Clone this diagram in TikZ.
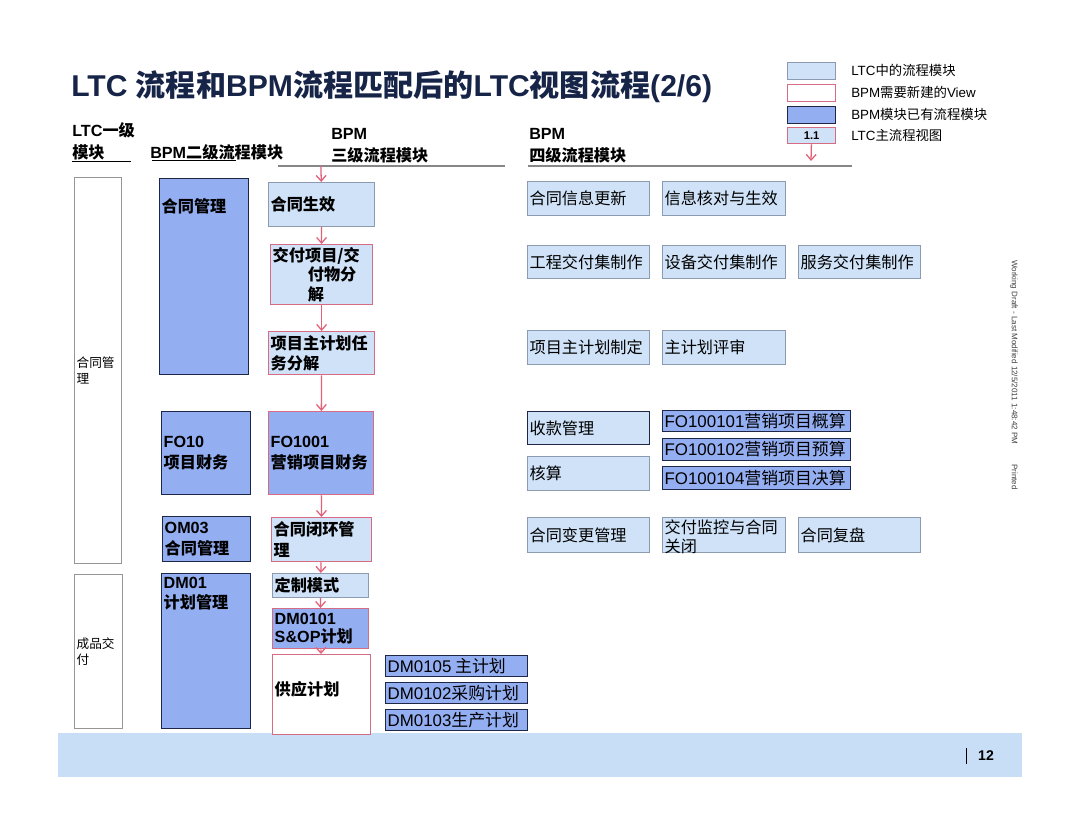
\documentclass[tikz,border=0pt]{standalone}
\usepackage{fontspec}
\setmainfont{Noto Sans CJK SC}
\newfontfamily\lat{Liberation Sans}
\usetikzlibrary{arrows.meta}
\definecolor{LtcBlue}{RGB}{207,226,247}
\definecolor{LtcEdge}{RGB}{140,155,175}
\definecolor{BpmBlue}{RGB}{148,174,242}
\definecolor{BpmEdge}{RGB}{30,40,70}
\definecolor{NewRed}{RGB}{214,108,132}
\definecolor{ArrowRed}{RGB}{226,96,120}
\definecolor{TitleBlue}{RGB}{22,36,72}
\definecolor{BandBlue}{RGB}{200,222,246}
\definecolor{GrayEdge}{RGB}{150,150,150}
\definecolor{GrayLine}{RGB}{135,135,135}
\tikzset{
    ltc/.style={draw=LtcEdge, fill=LtcBlue, line width=0.7pt},
    bpm/.style={draw=BpmEdge, fill=BpmBlue, line width=0.8pt},
    nuevo/.style={draw=NewRed, line width=0.9pt},
    nivel1/.style={draw=GrayEdge, fill=white, line width=0.7pt, font=\fontsize{9}{11}\selectfont},
    nivel2/.style={font=\bfseries\fontsize{11.5}{14.5}\selectfont},
    nivel3/.style={font=\bfseries\fontsize{11.5}{14.5}\selectfont},
    nivel4/.style={font=\fontsize{11.5}{14}\selectfont},
    detalle/.style={font=\fontsize{12}{14}\selectfont},
    cabecera/.style={anchor=west, align=left, inner sep=0pt, font=\bfseries\fontsize{11.5}{15.5}\selectfont},
    leyenda/.style={anchor=west, inner sep=0pt, font=\fontsize{9.5}{11}\selectfont},
    flecha/.style={ArrowRed, line width=0.9pt, -{Straight Barb[length=4pt,width=7pt]}},
    regla/.style={GrayLine, line width=1.6pt},
}
\newcommand{\modbox}[8]{% nombre, x, y, ancho, alto, estilo, vertical, texto
    \pgfmathsetlengthmacro\mbw{#4*0.025cm-3pt}%
    \pgfmathsetlengthmacro\mbh{#5*0.025cm-3pt}%
    \node[#6, inner sep=1.5pt, anchor=north west] (#1) at (#2,#3)
        {\parbox[c][\mbh][#7]{\mbw}{\raggedright #8}};
}

\begin{document}
\begin{tikzpicture}[x=0.025cm, y=-0.025cm]

\path[use as bounding box, fill=white] (0,0) rectangle (1080,832);

% pie de pagina
\fill[BandBlue] (58,733) rectangle (1022,777);
\draw[black, line width=0.6pt] (966,748) -- (966,764);
\node[inner sep=0pt, font=\lat\bfseries\fontsize{10}{12}\selectfont] (pagina) at (986,756) {12};

% titulo
\node[anchor=west, inner sep=0pt, text=TitleBlue, font=\bfseries\fontsize{21.4}{24}\selectfont] (titulo) at (71,87)
    {{\lat LTC }流程和{\lat BPM}流程匹配后的{\lat LTC}视图流程{\lat (2/6)}};

% leyenda
\modbox{lg1}{787}{62}{48}{17}{ltc}{c}{\leavevmode}
\modbox{lg2}{787}{84}{48}{17}{fill=white, nuevo}{c}{\leavevmode}
\modbox{lg3}{787}{106}{48}{17}{bpm}{c}{\leavevmode}
\modbox{lg4}{787}{127}{48}{16}{ltc, nuevo, font=\bfseries\fontsize{8}{9}\selectfont}{c}{\centering\lat 1.1}
\node[leyenda] (lgt1) at (851,70) {{\lat LTC}中的流程模块};
\node[leyenda] (lgt2) at (851,92) {{\lat BPM}需要新建的{\lat View}};
\node[leyenda] (lgt3) at (851,114) {{\lat BPM}模块已有流程模块};
\node[leyenda] (lgt4) at (851,135) {{\lat LTC}主流程视图};
\coordinate (lgfin) at (811,161);
\draw[flecha] (lg4) -- (lgfin);

% cabeceras
\node[cabecera] (hd1) at (72,141) {{\lat LTC}一级\\模块};
\node[cabecera] (hd2) at (150,152) {{\lat BPM}二级流程模块};
\node[cabecera] (hd3) at (331,146) {{\lat BPM}\\三级流程模块};
\node[cabecera] (hd4) at (529,146) {{\lat BPM}\\四级流程模块};
\draw[black, line width=0.7pt] (72,161) -- (131,161);
\draw[black, line width=0.7pt] (152,160) -- (236,160);
\draw[regla] (278,166) -- (505,166);
\draw[regla] (528,166) -- (852,166);

% LTC一级
\modbox{l1a}{74}{177}{47}{386}{nivel1}{c}{合同管\\理}
\modbox{l1b}{74}{574}{48}{154}{nivel1}{c}{成品交\\付}

% BPM二级
\modbox{c2a}{159}{178}{89}{196}{bpm, nivel2}{t}{\vspace*{13pt}合同管理}
\modbox{c2b}{161}{411}{89}{83}{bpm, nivel2}{c}{{\lat FO10}\\项目财务}
\modbox{c2c}{162}{516}{88}{45}{bpm, nivel2}{c}{{\lat OM03}\\合同管理}
\modbox{c2d}{161}{573}{89}{155}{bpm, nivel2}{t}{\vspace*{1pt}{\lat DM01}\\计划管理}

% BPM三级
\modbox{c3a}{268}{182}{106}{44}{ltc, nivel3}{c}{合同生效}
\modbox{c3b}{270}{244}{102}{60}{ltc, nuevo, nivel3, font=\bfseries\fontsize{11.5}{14}\selectfont}{c}{交付项目/交\\\hspace*{25pt}付物分\\\hspace*{25pt}解}
\modbox{c3c}{268}{331}{106}{43}{ltc, nuevo, nivel3}{c}{项目主计划任\\务分解}
\modbox{c3d}{268}{411}{105}{83}{bpm, nuevo, nivel3}{c}{{\lat FO1001}\\营销项目财务}
\modbox{c3e}{271}{517}{100}{44}{ltc, nuevo, nivel3}{c}{合同闭环管\\理}
\modbox{c3f}{272}{573}{96}{24}{ltc, nivel3}{c}{定制模式}
\modbox{c3g}{272}{608}{96}{40}{bpm, nuevo, nivel3, font=\bfseries\fontsize{11.5}{13}\selectfont}{c}{{\lat DM0101}\\{\lat S\&OP}计划}
\modbox{c3h}{272}{654}{98}{80}{fill=white, nuevo, nivel3}{c}{供应计划\vspace*{8pt}}

\coordinate (hdfin) at (321,166);
\draw[flecha] (hdfin) -- (c3a);
\draw[flecha] (c3a) -- (c3b);
\draw[flecha] (c3b) -- (c3c);
\draw[flecha] (c3c) -- (c3d);
\draw[flecha] (c3d) -- (c3e);
\draw[flecha] (c3e) -- (c3f);
\draw[flecha] (c3f) -- (c3g);
\draw[flecha] (c3g) -- (c3h);

% BPM四级
\modbox{d1}{527}{181}{122}{34}{ltc, nivel4}{c}{合同信息更新}
\modbox{d2}{662}{181}{123}{34}{ltc, nivel4}{c}{信息核对与生效}
\modbox{d3}{527}{245}{122}{33}{ltc, nivel4}{c}{工程交付集制作}
\modbox{d4}{662}{245}{123}{33}{ltc, nivel4}{c}{设备交付集制作}
\modbox{d5}{798}{245}{122}{33}{ltc, nivel4}{c}{服务交付集制作}
\modbox{d6}{527}{330}{122}{34}{ltc, nivel4}{c}{项目主计划制定}
\modbox{d7}{662}{330}{123}{34}{ltc, nivel4}{c}{主计划评审}
\modbox{d8}{527}{411}{122}{33}{ltc, draw=BpmEdge, nivel4}{c}{收款管理}
\modbox{d9}{527}{456}{122}{34}{ltc, nivel4}{c}{核算}
\modbox{e1}{662}{410}{188}{21}{bpm, detalle}{c}{{\lat FO100101}营销项目概算}
\modbox{e2}{662}{438}{188}{22}{bpm, detalle}{c}{{\lat FO100102}营销项目预算}
\modbox{e3}{662}{466}{188}{23}{bpm, detalle}{c}{{\lat FO100104}营销项目决算}
\modbox{d10}{527}{517}{122}{35}{ltc, nivel4}{c}{合同变更管理}
\modbox{d11}{662}{517}{123}{35}{ltc, nivel4, font=\fontsize{11.5}{13.5}\selectfont}{t}{交付监控与合同\\关闭}
\modbox{d12}{798}{517}{122}{35}{ltc, nivel4}{c}{合同复盘}
\modbox{f1}{385}{655}{142}{21}{bpm, detalle}{c}{{\lat DM0105} 主计划}
\modbox{f2}{385}{682}{142}{21}{bpm, detalle}{c}{{\lat DM0102}采购计划}
\modbox{f3}{385}{709}{142}{21}{bpm, detalle}{c}{{\lat DM0103}生产计划}

% texto lateral
\node[rotate=-90, inner sep=0pt, text=black!75, font=\lat\fontsize{5.7}{7}\selectfont] (borrador) at (1014,375)
    {Working Draft - Last Modified 12/5/2011 1:48:42 PM\hspace{2.5em}Printed};

\end{tikzpicture}
\end{document}
